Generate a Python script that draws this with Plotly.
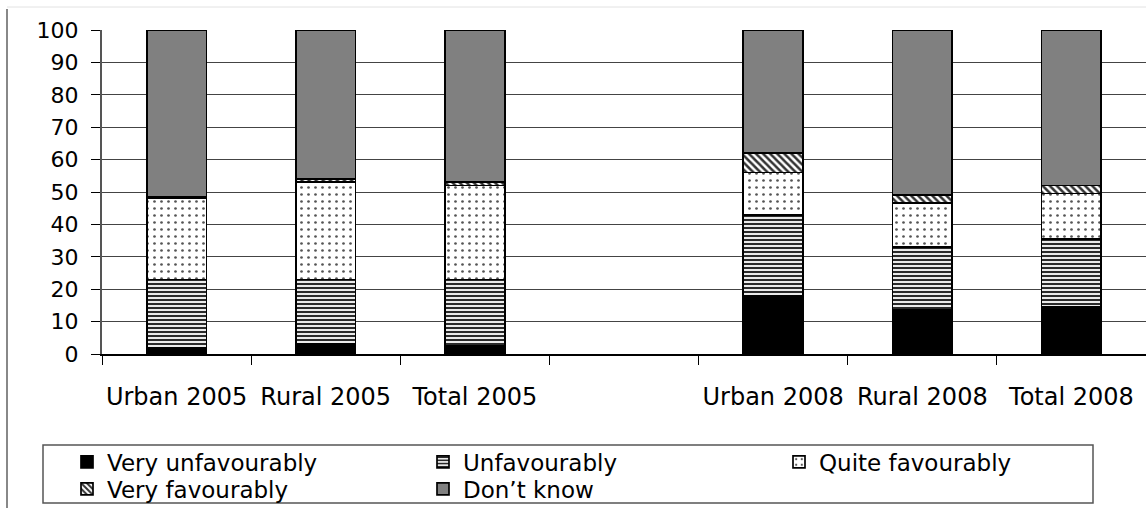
import plotly.graph_objects as go

# Survey categories (an empty slot separates the 2005 and 2008 groups)
categories = ["Urban 2005", "Rural 2005", "Total 2005",
              "Urban 2008", "Rural 2008", "Total 2008"]
slots = [0, 1, 2, 4, 5, 6]

# Shares of respondents, percent
very_unfavourably = [2, 3, 2.5, 18, 13.5, 14.5]
unfavourably = [21, 20, 20.5, 25, 19.5, 21]
quite_favourably = [25, 30, 29, 13, 13.5, 14]
very_favourably = [0.5, 1, 1, 6, 2.5, 2.5]
dont_know = [51.5, 46, 47, 38, 51, 48]

y_ticks = list(range(0, 101, 10))

W, H = 1146, 508
ML, MR, MT, MB = 102, 0, 30, 154
PW, PH = W - ML - MR, H - MT - MB


def px_x(x):
    return (x - ML) / PW


def px_y(y):
    return (H - MB - y) / PH


FONT = "DejaVu Sans"
LEGEND_FONT = dict(family=FONT, size=23, color="#000000")

# (name, values, fill, legend row)
series = [
    ("Very unfavourably", very_unfavourably,
     dict(color="#000000"), "legend"),
    ("Unfavourably", unfavourably,
     dict(color="#ffffff", pattern=dict(shape="-", size=4, solidity=0.55,
                                        fgcolor="#2a2a2a", bgcolor="#ffffff",
                                        fillmode="replace")), "legend"),
    ("Quite favourably", quite_favourably,
     dict(color="#ffffff", pattern=dict(shape=".", size=7, solidity=0.12,
                                        fgcolor="#555555", bgcolor="#ffffff",
                                        fillmode="replace")), "legend"),
    ("Very favourably", very_favourably,
     dict(color="#ffffff", pattern=dict(shape="\\", size=5, solidity=0.5,
                                        fgcolor="#333333", bgcolor="#ffffff",
                                        fillmode="replace")), "legend2"),
    ("Don\u2019t know", dont_know,
     dict(color="#808080"), "legend2"),
]

fig = go.Figure()
for name, vals, marker, leg in series:
    fig.add_trace(go.Bar(
        x=slots, y=vals, name=name, legend=leg,
        marker=dict(**marker, line=dict(color="#000000", width=1.7)),
        hovertext=categories,
    ))

legend_common = dict(
    orientation="h", traceorder="normal",
    xanchor="left", yanchor="middle", xref="paper", yref="paper",
    entrywidth=311, entrywidthmode="pixels",
    font=LEGEND_FONT, bgcolor="rgba(0,0,0,0)", borderwidth=0,
)

fig.update_layout(
    width=W, height=H,
    margin=dict(l=ML, r=MR, t=MT, b=MB, pad=0, autoexpand=False),
    paper_bgcolor="#ffffff", plot_bgcolor="#ffffff",
    barmode="stack", bargap=0.6,
    font=dict(family=FONT, color="#000000"),
    showlegend=True,
    legend=dict(**legend_common, x=px_x(67), y=px_y(462)),
    legend2=dict(**legend_common, x=px_x(67), y=px_y(489)),
    xaxis=dict(
        range=[-0.5, 6.5], tickmode="array", tickvals=slots,
        ticktext=categories, ticks="", showgrid=False, zeroline=False,
        showline=True, linecolor="#000000", linewidth=1.5,
        tickfont=dict(family=FONT, size=24, color="#000000"),
        ticklabelstandoff=20, automargin=False,
        minor=dict(tickmode="linear", tick0=-0.5, dtick=1, ticks="outside",
                   ticklen=9, tickcolor="#000000", tickwidth=1.2,
                   showgrid=False),
    ),
    yaxis=dict(
        range=[0, 100], tickmode="array", tickvals=y_ticks,
        ticks="outside", ticklen=9, tickcolor="#000000", tickwidth=1.2,
        showgrid=True, gridcolor="#444444", gridwidth=1.2, zeroline=False,
        showline=True, linecolor="#555555", linewidth=2,
        tickfont=dict(family=FONT, size=22, color="#000000"),
        ticklabelstandoff=8, automargin=False,
    ),
    shapes=[
        # legend frame
        dict(type="rect", xref="paper", yref="paper",
             x0=px_x(43), x1=px_x(1093), y0=px_y(503), y1=px_y(445),
             line=dict(color="#555555", width=1.5), fillcolor="rgba(0,0,0,0)",
             layer="below"),
        # chart-area frame edges
        dict(type="line", xref="paper", yref="paper",
             x0=px_x(7), x1=px_x(7), y0=px_y(9), y1=px_y(508),
             line=dict(color="#888888", width=2)),
        dict(type="line", xref="paper", yref="paper",
             x0=px_x(7), x1=px_x(1146), y0=px_y(7), y1=px_y(7),
             line=dict(color="#e2e2e2", width=1)),
    ],
)

fig.write_html("out.html")
